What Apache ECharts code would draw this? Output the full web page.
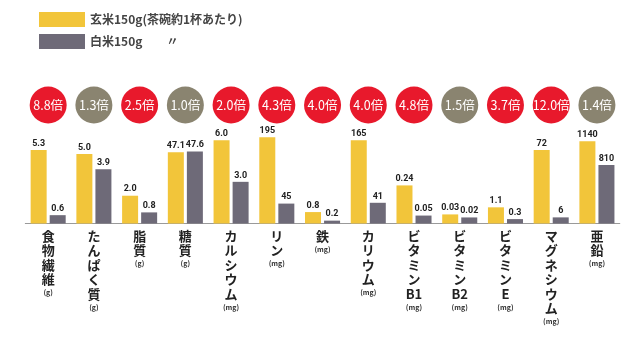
<!DOCTYPE html>
<html><head><meta charset="utf-8">
<script src="https://cdn.jsdelivr.net/npm/echarts@6/dist/echarts.min.js"></script>
<style>html,body{margin:0;padding:0;background:#fff}#c{width:642px;height:358px}</style>
</head><body><div id="c"></div>
<script>
const categories = ['食物繊維','たんぱく質','脂質','糖質','カルシウム','リン','鉄','カリウム','ビタミンB1','ビタミンB2','ビタミンE','マグネシウム','亜鉛'];
const units = ['g','g','g','g','mg','mg','mg','mg','mg','mg','mg','mg','mg'];
const genmai = [5.3, 5.0, 2.0, 47.1, 6.0, 195, 0.8, 165, 0.24, 0.03, 1.1, 72, 1140];
const hakumai = [0.6, 3.9, 0.8, 47.6, 3.0, 45, 0.2, 41, 0.05, 0.02, 0.3, 6, 810];
const ratios = ['8.8', '1.3', '2.5', '1.0', '2.0', '4.3', '4.0', '4.0', '4.8', '1.5', '3.7', '12.0', '1.4'];
const scaleMax = [7.2, 7.2, 7.2, 66, 7.2, 226, 7, 198, 0.63, 0.33, 6.8, 98, 1386];
const decimals = [1, 1, 1, 1, 1, 0, 1, 0, 2, 2, 1, 0, 0];
const seriesNames = ['玄米150g(茶碗約1杯あたり)', '白米150g'];

const YEL = '#f2c53a', GRY = '#6e6a78', RED = '#e8192c', OLV = '#8a8470';
const FONT = '"Noto Sans CJK JP", "Noto Sans", sans-serif';
const L0 = 25.3, CW = 45.73, TOP = 123.5, H = 100;

function vertLabel(name, unit) {
  const toks = name.match(/[A-Za-z0-9]+|./g);
  return toks.map(t => '{n|' + t + '}').join('\n') + '\n{u|(' + unit + ')}';
}

const grids = [], xAxes = [], yAxes = [], series = [];
categories.forEach((cat, i) => {
  grids.push({left: L0 + i * CW, width: CW, top: TOP, height: H});
  xAxes.push({
    gridIndex: i, type: 'category', data: [cat],
    axisLine: {lineStyle: {color: '#9a9a9a', width: 1}},
    axisTick: {show: false},
    axisLabel: {
      interval: 0, margin: 5,
      formatter: () => vertLabel(cat, units[i]),
      rich: {
        n: {fontFamily: FONT, fontSize: 13, fontWeight: 'bold', color: '#222', lineHeight: 14.5, align: 'center'},
        u: {fontFamily: FONT, fontSize: 7, fontWeight: 'bold', color: '#333', lineHeight: 12, align: 'center'}
      }
    }
  });
  yAxes.push({gridIndex: i, type: 'value', min: 0, max: scaleMax[i], show: false, splitLine: {show: false}});
  const lab = {
    show: true, position: 'top', distance: 2,
    fontFamily: 'Roboto, sans-serif', fontSize: 9, fontWeight: 'bold', color: '#222',
    formatter: p => Number(p.value).toFixed(decimals[i])
  };
  series.push({
    name: seriesNames[0], type: 'bar', xAxisIndex: i, yAxisIndex: i,
    data: [genmai[i]], barWidth: 16, barGap: '19%',
    itemStyle: {color: YEL}, label: lab, silent: true
  });
  series.push({
    name: seriesNames[1], type: 'bar', xAxisIndex: i, yAxisIndex: i,
    data: [hakumai[i]], barWidth: 16, barGap: '19%',
    itemStyle: {color: GRY}, label: lab, silent: true
  });
});

// ratio circles row
const ci = categories.length;
grids.push({left: L0, width: CW * ci, top: 86, height: 38});
xAxes.push({gridIndex: ci, type: 'category', data: categories, show: false});
yAxes.push({gridIndex: ci, type: 'value', min: -1, max: 1, show: false});
series.push({
  type: 'scatter', xAxisIndex: ci, yAxisIndex: ci, symbolSize: 37, silent: true,
  data: ratios.map(r => ({value: 0, itemStyle: {color: parseFloat(r) >= 2 ? RED : OLV, opacity: 1}})),
  itemStyle: {opacity: 1},
  label: {
    show: true, position: 'inside', color: '#fff',
    fontFamily: FONT, fontSize: 12.5,
    formatter: p => ratios[p.dataIndex] + '倍'
  }
});

const chart = echarts.init(document.getElementById('c'));
chart.setOption({
  animation: false,
  backgroundColor: '#fff',
  legend: {
    orient: 'vertical', left: 34, top: 7, itemWidth: 46, itemHeight: 15, itemGap: 7,
    icon: 'rect', selectedMode: false,
    data: seriesNames,
    formatter: n => n === seriesNames[1] ? n + '\u3000\u3000〃' : n,
    textStyle: {fontFamily: FONT, fontSize: 12, fontWeight: 'bold', color: '#444'}
  },
  grid: grids, xAxis: xAxes, yAxis: yAxes, series: series
});
</script></body></html>
